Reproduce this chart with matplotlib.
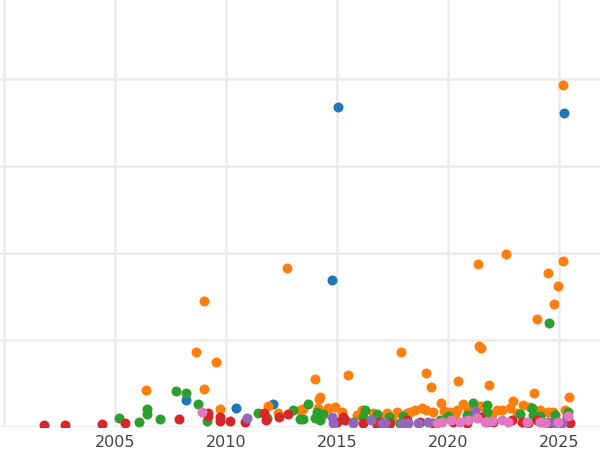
import matplotlib
matplotlib.use("Agg")
import matplotlib.pyplot as plt
import numpy as np

# values (year, value); one gridline = 100 units
blue_year = [2015.05, 2025.23, 2014.77, 2012.12, 2008.20, 2010.45]
blue_val = [368, 361, 169, 26, 31, 22]

orange_year = [2025.18, 2012.75, 2021.35, 2022.61, 2024.50, 2025.18, 2024.95, 2024.77, 2024.01,
               2009.01, 2008.65, 2009.55, 2006.40, 2009.01, 2017.88, 2019.01, 2019.23, 2020.45,
               2021.40, 2021.49, 2021.85, 2015.50, 2014.01, 2014.23, 2014.19, 2025.45, 2023.87,
               2019.68, 2020.68, 2022.93, 2009.73, 2011.89, 2012.34, 2013.33, 2013.47, 2014.14,
               2014.59, 2014.91, 2015.23, 2016.13, 2016.62, 2017.25, 2017.70, 2018.51, 2018.83,
               2019.32, 2020.09, 2021.44, 2022.21, 2018.15, 2020.41, 2023.38, 2023.69, 2024.14,
               2024.73, 2025.27, 2022.43, 2022.79, 2024.50, 2025.36, 2018.30, 2019.00, 2019.80,
               2020.30, 2020.90, 2021.10, 2021.70, 2022.00, 2023.10, 2015.90, 2016.90, 2017.50]
orange_val = [393, 183, 187, 199, 177, 191, 162, 141, 124,
              145, 86, 75, 43, 44, 86, 62, 46, 53,
              93, 91, 48, 60, 55, 34, 32, 34, 39,
              28, 26, 30, 21, 24, 16, 20, 21, 22,
              22, 23, 17, 20, 16, 16, 17, 20, 22,
              17, 17, 24, 20, 16, 20, 25, 23, 20,
              17, 20, 20, 22, 17, 17, 17, 20, 18,
              15, 20, 17, 18, 15, 16, 14, 13, 12]

green_year = [2024.55, 2007.75, 2008.20, 2006.44, 2006.44, 2005.18, 2006.08, 2007.03, 2008.74,
              2009.14, 2011.44, 2011.85, 2013.02, 2013.33, 2013.69, 2013.47, 2014.01, 2014.10,
              2014.37, 2014.23, 2016.26, 2016.17, 2016.80, 2017.34, 2017.84, 2015.72, 2021.13,
              2021.76, 2021.76, 2017.97, 2019.64, 2020.00, 2020.86, 2023.78, 2023.24, 2024.82,
              2025.41, 2024.14, 2023.83]
green_val = [120, 41, 39, 21, 15, 10, 6, 9, 26,
             7, 16, 10, 20, 9, 26, 9, 10, 17,
             15, 8, 20, 11, 15, 11, 5, 6, 28,
             25, 17, 13, 8, 13, 14, 22, 15, 14,
             17, 13, 14]

red_year = [2001.80, 2002.75, 2004.41, 2005.45, 2007.88, 2009.19, 2009.19, 2009.73, 2009.73,
            2010.18, 2010.86, 2011.71, 2011.80, 2012.39, 2012.79, 2015.27, 2015.36, 2015.00,
            2016.17, 2016.94, 2017.39, 2016.80, 2018.15, 2018.74, 2020.23, 2021.44, 2022.03,
            2019.32, 2020.86, 2022.88, 2023.33, 2024.01, 2025.36, 2025.50, 2024.59, 2023.60]
red_val = [2, 2, 3, 5, 9, 16, 13, 11, 7,
           7, 6, 16, 8, 11, 15, 11, 8, 6,
           5, 6, 5, 2, 8, 6, 6, 11, 6,
           5, 5, 8, 6, 8, 11, 5, 5, 5]

purple_year = [2010.95, 2014.77, 2014.82, 2015.72, 2016.53, 2017.03, 2017.16, 2017.93, 2018.20,
               2018.65, 2019.10, 2021.22, 2021.76, 2024.50, 2024.82, 2025.14]
purple_val = [10, 11, 5, 5, 8, 5, 5, 5, 5,
              5, 6, 18, 6, 6, 5, 5]

pink_year = [2008.92, 2019.73, 2020.14, 2020.54, 2020.90, 2021.31, 2021.67, 2021.98, 2019.50,
             2022.43, 2022.70, 2023.56, 2024.14, 2024.37, 2024.95, 2025.41]
pink_val = [17, 6, 8, 6, 8, 10, 6, 7, 5,
            8, 6, 6, 6, 5, 6, 13]

series = [
    (blue_year, blue_val, "#1f77b4"),
    (orange_year, orange_val, "#ff7f0e"),
    (green_year, green_val, "#2ca02c"),
    (red_year, red_val, "#d62728"),
    (purple_year, purple_val, "#9467bd"),
    (pink_year, pink_val, "#e377c2"),
]

fig = plt.figure(figsize=(6, 4.5), dpi=100)
ax = fig.add_axes([0, 23 / 450, 1, 427 / 450])

for xs, ys, c in series:
    ax.scatter(xs, ys, s=52, color=c, linewidths=0, zorder=3)

ax.set_xlim(1999.82, 2026.85)
ax.set_ylim(0, 490.8)
ax.set_xticks([2000, 2005, 2010, 2015, 2020, 2025])
ax.set_xticklabels(["", "2005", "2010", "2015", "2020", "2025"])
ax.set_yticks([0, 100, 200, 300, 400])
ax.set_yticklabels([])
ax.grid(True, color="#ebebeb", linewidth=1.8)
ax.set_axisbelow(True)
for s in ax.spines.values():
    s.set_visible(False)
ax.tick_params(length=0, labelsize=11.5, labelcolor="#444444", pad=6)

fig.savefig("out.png", dpi=100)
